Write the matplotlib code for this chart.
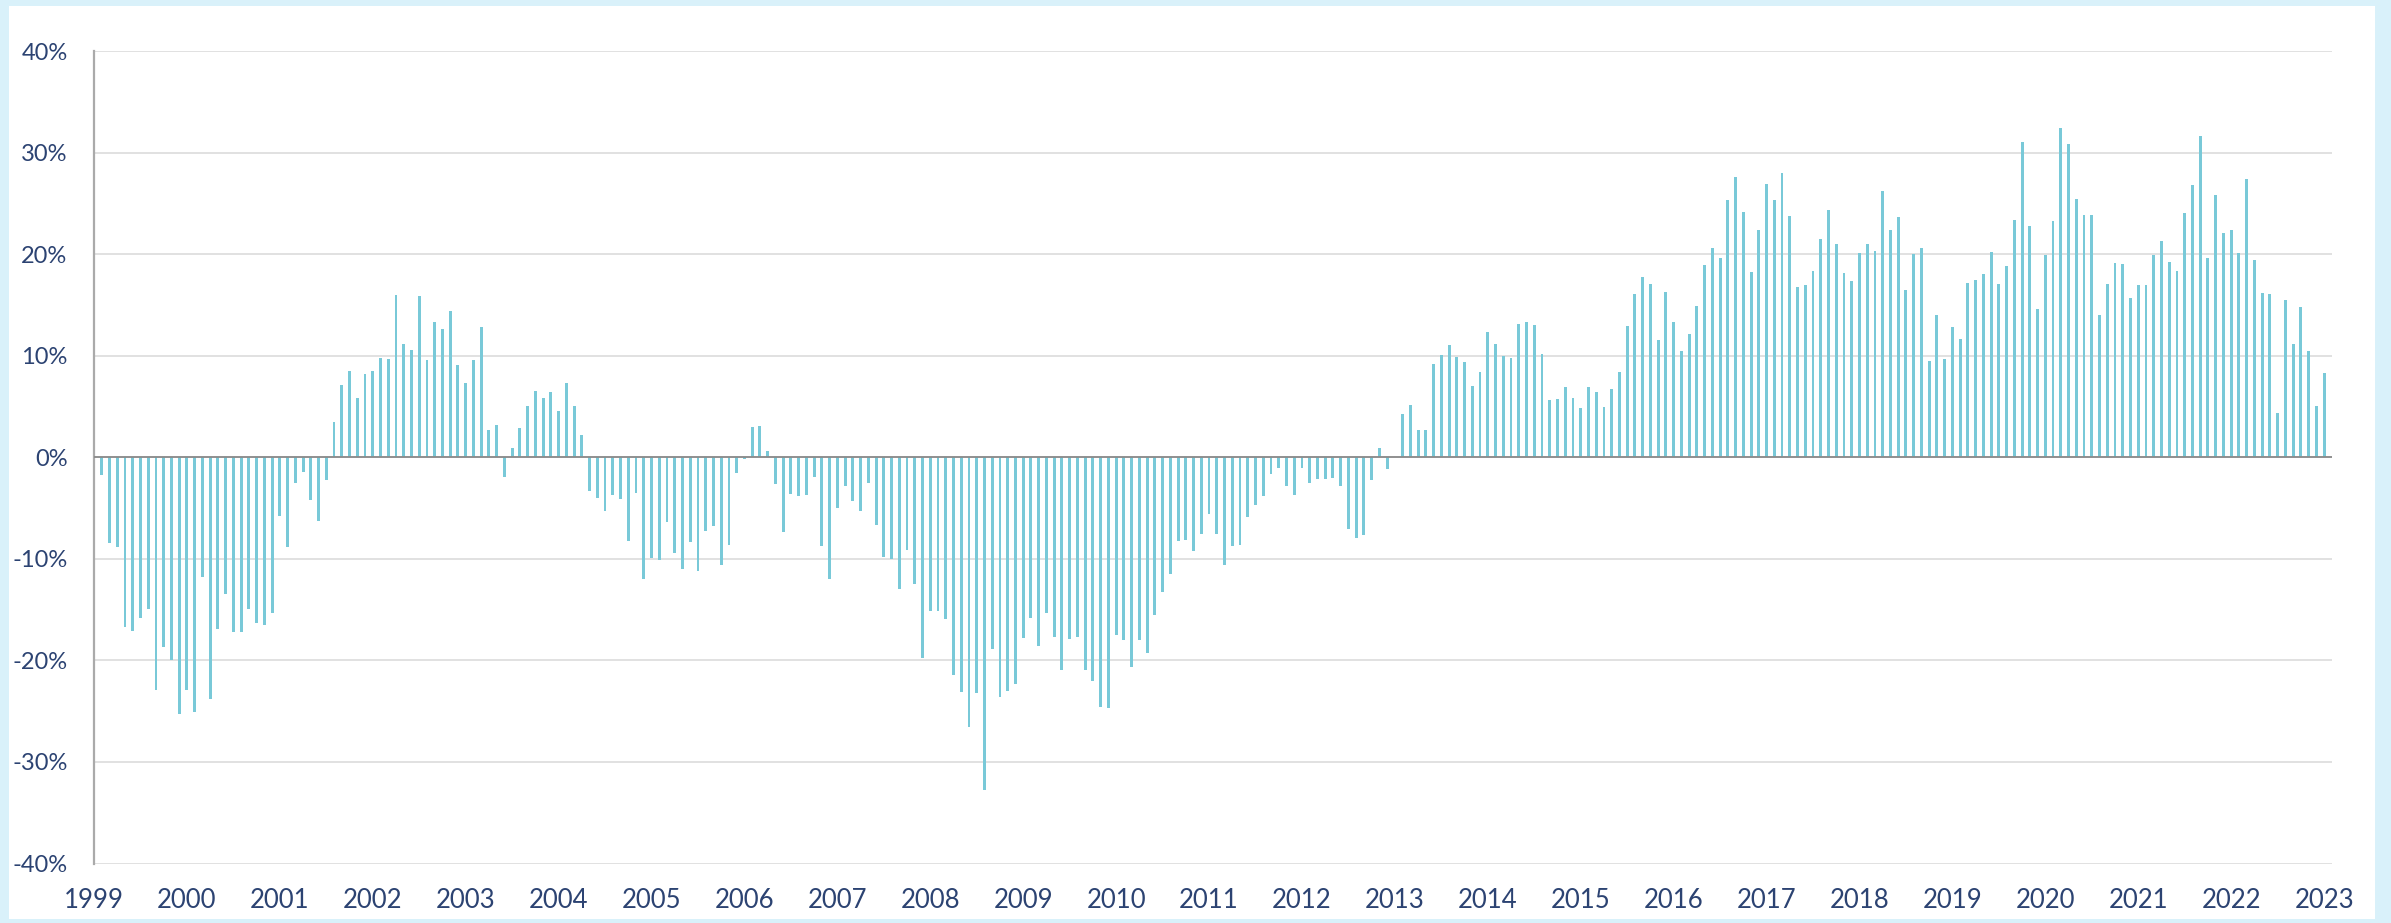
import numpy as np
import matplotlib
matplotlib.use("Agg")
import matplotlib.pyplot as plt
from matplotlib.patches import Rectangle

# monthly year-on-year change (%), Feb 1999 .. Jan 2023
yoy_1999_2002 = [-1.7, -8.4, -8.8, -16.7, -17.1, -15.8, -14.9, -22.9, -18.7, -20.0, -25.3, -22.9,
                 -25.1, -11.8, -23.8, -16.9, -13.5, -17.2, -17.2, -14.9, -16.3, -16.5, -15.3, -5.8,
                 -8.8, -2.5, -1.4, -4.2, -6.3, -2.2, 3.5, 7.1, 8.5, 5.8, 8.2, 8.5,
                 9.8, 9.7, 16.0, 11.2, 10.6, 15.9, 9.6, 13.3, 12.6, 14.4, 9.1, 7.3]
yoy_2003_2006 = [9.6, 12.8, 2.7, 3.2, -1.9, 0.9, 2.9, 5.1, 6.5, 5.8, 6.4, 4.6,
                 7.3, 5.1, 2.2, -3.3, -4.0, -5.3, -3.7, -4.1, -8.2, -3.5, -12.0, -9.9,
                 -10.1, -6.4, -9.4, -11.0, -8.3, -11.2, -7.3, -6.8, -10.6, -8.6, -1.5, -0.2,
                 3.0, 3.1, 0.6, -2.6, -7.4, -3.6, -3.8, -3.7, -1.9, -8.7, -12.0, -5.0]
yoy_2007_2010 = [-2.8, -4.3, -5.3, -2.5, -6.7, -9.8, -10.0, -13.0, -9.1, -12.5, -19.8, -15.1,
                 -15.1, -15.9, -21.4, -23.1, -26.6, -23.2, -32.8, -18.9, -23.6, -23.0, -22.3, -17.8,
                 -15.8, -18.6, -15.3, -17.7, -20.9, -17.9, -17.7, -20.9, -22.0, -24.6, -24.7, -17.5,
                 -18.0, -20.6, -18.0, -19.3, -15.5, -13.3, -11.5, -8.2, -8.1, -9.2, -7.5, -5.6]
yoy_2011_2014 = [-7.5, -10.6, -8.7, -8.6, -5.9, -4.7, -3.8, -1.6, -1.0, -2.8, -3.7, -1.0,
                 -2.5, -2.1, -2.1, -2.0, -2.8, -7.1, -7.9, -7.6, -2.2, 0.9, -1.1, 0.0,
                 4.3, 5.2, 2.7, 2.7, 9.2, 10.1, 11.1, 9.9, 9.4, 7.0, 8.4, 12.3,
                 11.2, 10.0, 9.8, 13.1, 13.3, 13.0, 10.2, 5.6, 5.7, 6.9, 5.8, 4.9]
yoy_2015_2018 = [6.9, 6.4, 5.0, 6.7, 8.4, 12.9, 16.1, 17.8, 17.1, 11.6, 16.3, 13.3,
                 10.5, 12.1, 14.9, 18.9, 20.6, 19.6, 25.3, 27.6, 24.2, 18.3, 22.4, 26.9,
                 25.3, 28.0, 23.8, 16.8, 17.0, 18.4, 21.5, 24.4, 21.0, 18.2, 17.4, 20.1,
                 21.0, 20.3, 26.2, 22.4, 23.7, 16.5, 20.0, 20.6, 9.5, 14.0, 9.7, 12.8]
yoy_2019_2022 = [11.7, 17.2, 17.5, 18.1, 20.2, 17.1, 18.8, 23.4, 31.1, 22.8, 14.6, 19.9,
                 23.3, 32.4, 30.9, 25.4, 23.9, 23.9, 14.0, 17.1, 19.1, 19.0, 15.7, 17.0,
                 17.0, 19.9, 21.3, 19.2, 18.4, 24.1, 26.8, 31.6, 19.6, 25.8, 22.1, 22.4,
                 20.1, 27.4, 19.4, 16.2, 16.1, 4.4, 15.5, 11.2, 14.8, 10.5, 5.1, 8.3]

years = list(range(1999, 2024))
y_ticks = [-40, -30, -20, -10, 0, 10, 20, 30, 40]

values = np.array(yoy_1999_2002 + yoy_2003_2006 + yoy_2007_2010
                  + yoy_2011_2014 + yoy_2015_2018 + yoy_2019_2022)
months = 1999 + np.arange(1, len(values) + 1) / 12

bar_col = "#79c9d8"
text_col = "#2c4372"
grid_col = "#dedede"

plt.rcParams["font.family"] = ["Lato", "DejaVu Sans"]

W, H = 2391, 923
fig = plt.figure(figsize=(W / 100, H / 100), dpi=100, facecolor="#d9f1fa")
fig.patches.append(Rectangle((9 / W, 4 / H), (2375 - 9) / W, (919 - 6) / H,
                             transform=fig.transFigure, facecolor="white",
                             edgecolor="none", zorder=0))

ax = fig.add_axes([94 / W, 1 - 863.5 / H, (2331.5 - 94) / W, (863.5 - 51.2) / H])
ax.set_facecolor("none")
ax.set_zorder(2)

ax.bar(months, values, width=0.031, color=bar_col, zorder=3)
ax.axhline(0, color="#8a8a8a", lw=1.3, zorder=4)

ax.set_xlim(1999, 2023.08)
ax.set_ylim(-40, 40)
ax.set_yticks(y_ticks)
ax.set_yticklabels([f"{v}%" for v in y_ticks])
ax.set_xticks(years)
ax.set_xticklabels([str(y) for y in years])

ax.grid(axis="y", color=grid_col, lw=1.3, zorder=1)
ax.grid(axis="x", visible=False)
for s in ["top", "right", "bottom"]:
    ax.spines[s].set_visible(False)
ax.spines["left"].set_color("#aaaaaa")
ax.spines["left"].set_linewidth(1.6)

ax.tick_params(axis="y", length=0, pad=19, labelsize=17, labelcolor=text_col)
ax.tick_params(axis="x", length=0, pad=18, labelsize=18.5, labelcolor=text_col)

fig.savefig("out.png", dpi=100, facecolor=fig.get_facecolor())
